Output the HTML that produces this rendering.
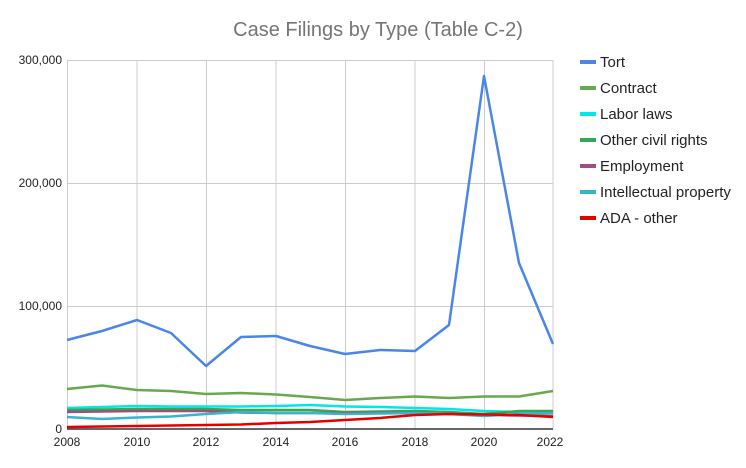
<!DOCTYPE html><html><head><style>body{margin:0;background:#fff}svg{font-family:"Liberation Sans",Arial,sans-serif}</style></head><body>
<svg width="746" height="463" xmlns="http://www.w3.org/2000/svg">
<rect width="746" height="463" fill="#fff"/>
<text x="378" y="36" text-anchor="middle" font-size="20" fill="#757575">Case Filings by Type (Table C-2)</text>
<g stroke="#ccc" stroke-width="1">
<line x1="67" y1="60.5" x2="553" y2="60.5"/><line x1="67" y1="183.5" x2="553" y2="183.5"/><line x1="67" y1="306.5" x2="553" y2="306.5"/>
<line x1="67.5" y1="60" x2="67.5" y2="429"/><line x1="137" y1="60" x2="137" y2="429"/><line x1="206.5" y1="60" x2="206.5" y2="429"/><line x1="276" y1="60" x2="276" y2="429"/><line x1="345.5" y1="60" x2="345.5" y2="429"/><line x1="415" y1="60" x2="415" y2="429"/><line x1="484.5" y1="60" x2="484.5" y2="429"/><line x1="553" y1="60" x2="553" y2="429"/>
</g>
<line x1="67" y1="429" x2="553" y2="429" stroke="#333" stroke-width="1.5"/>
<g font-size="12" fill="#222" text-anchor="end">
<text x="62" y="64">300,000</text><text x="62" y="187">200,000</text><text x="62" y="310">100,000</text><text x="62" y="433">0</text></g>
<g font-size="12" fill="#222" text-anchor="middle">
<text x="67" y="446">2008</text><text x="137" y="446">2010</text><text x="206" y="446">2012</text><text x="276" y="446">2014</text><text x="345" y="446">2016</text><text x="415" y="446">2018</text><text x="484" y="446">2020</text><text x="550" y="446">2022</text></g>
<g fill="none" stroke-width="2.5" stroke-linejoin="round">
<polyline stroke="#6aa84f" points="67,389 102,385.5 137,390 171,391 206,394 241,393 276,394.5 310,397 345,400 380,398 415,396.5 449,398 484,396.5 519,396.5 553,391"/>
<polyline stroke="#00e5ee" points="67,408 102,407 137,406 171,406.5 206,406.5 241,406.5 276,406 310,405 345,406.5 380,407 415,408 449,409 484,411 519,412 553,413"/>
<polyline stroke="#34a853" points="67,410 102,409.5 137,409 171,409 206,409 241,410 276,410 310,410 345,412 380,411.5 415,411 449,412 484,414 519,411 553,411"/>
<polyline stroke="#9e4f7e" points="67,412 102,411.5 137,411 171,411 206,411 241,412.5 276,413 310,413 345,413 380,413 415,413 449,414 484,415 519,415.5 553,416"/>
<polyline stroke="#3ab4c8" points="67,417 102,419 137,417.5 171,416.5 206,414 241,412 276,413 310,413 345,414 380,413.5 415,413 449,414 484,416 519,414 553,413"/>
<polyline stroke="#e50000" points="67,427 102,426.5 137,426 171,425.5 206,425 241,424.5 276,423 310,422 345,420 380,418 415,415 449,414 484,414.5 519,415 553,417"/>
<polyline stroke="#4a86e8" points="67,340 102,331 137,320 171,333 206,366 241,337 276,336 310,346 345,354 380,350 415,351 449,325 484,76 519,263 553,344"/>
</g>
<g font-size="15" fill="#222">
<line x1="580" y1="62" x2="596" y2="62" stroke="#4a86e8" stroke-width="4"/><text x="600" y="67">Tort</text>
<line x1="580" y1="88" x2="596" y2="88" stroke="#6aa84f" stroke-width="4"/><text x="600" y="93">Contract</text>
<line x1="580" y1="114" x2="596" y2="114" stroke="#00e5ee" stroke-width="4"/><text x="600" y="119">Labor laws</text>
<line x1="580" y1="140" x2="596" y2="140" stroke="#34a853" stroke-width="4"/><text x="600" y="145">Other civil rights</text>
<line x1="580" y1="166" x2="596" y2="166" stroke="#9e4f7e" stroke-width="4"/><text x="600" y="171">Employment</text>
<line x1="580" y1="192" x2="596" y2="192" stroke="#3ab4c8" stroke-width="4"/><text x="600" y="197">Intellectual property</text>
<line x1="580" y1="218" x2="596" y2="218" stroke="#e50000" stroke-width="4"/><text x="600" y="223">ADA - other</text>
</g>
</svg></body></html>
